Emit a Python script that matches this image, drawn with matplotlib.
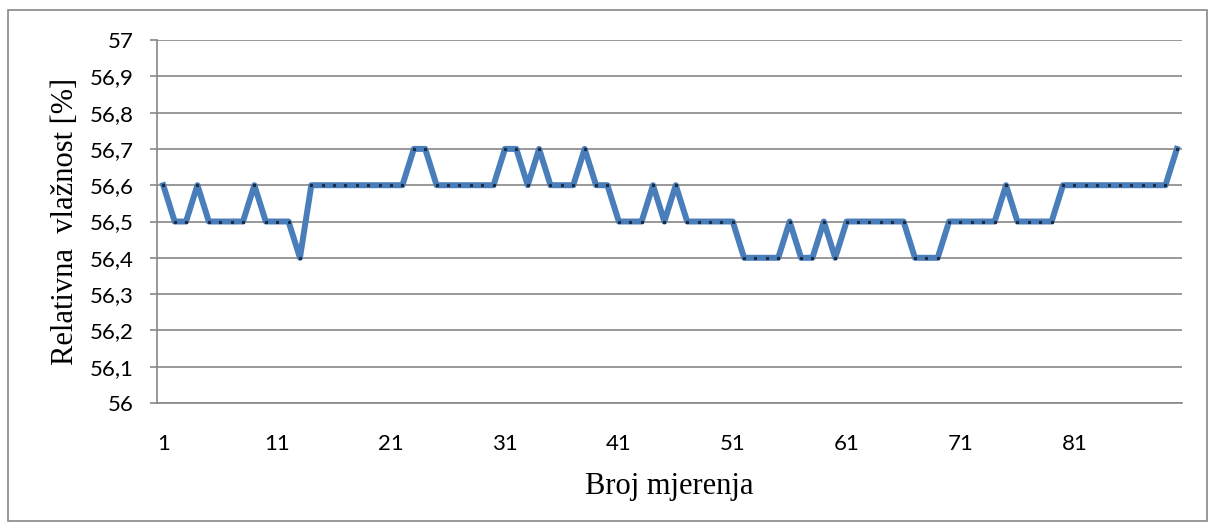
#relativna vlaznost - line chart
import numpy as np
import matplotlib
matplotlib.use('Agg')
import matplotlib.pyplot as plt
from matplotlib.patches import Rectangle

# measured values (1..90)
mjerenje = list(range(1, 91))
vlaznost = [56.6, 56.5, 56.5, 56.6, 56.5, 56.5, 56.5, 56.5, 56.6, 56.5,
            56.5, 56.5, 56.4, 56.6, 56.6, 56.6, 56.6, 56.6, 56.6, 56.6,
            56.6, 56.6, 56.7, 56.7, 56.6, 56.6, 56.6, 56.6, 56.6, 56.6,
            56.7, 56.7, 56.6, 56.7, 56.6, 56.6, 56.6, 56.7, 56.6, 56.6,
            56.5, 56.5, 56.5, 56.6, 56.5, 56.6, 56.5, 56.5, 56.5, 56.5,
            56.5, 56.4, 56.4, 56.4, 56.4, 56.5, 56.4, 56.4, 56.5, 56.4,
            56.5, 56.5, 56.5, 56.5, 56.5, 56.5, 56.4, 56.4, 56.4, 56.5,
            56.5, 56.5, 56.5, 56.5, 56.6, 56.5, 56.5, 56.5, 56.5, 56.6,
            56.6, 56.6, 56.6, 56.6, 56.6, 56.6, 56.6, 56.6, 56.6, 56.7]

x_ticks = [1, 11, 21, 31, 41, 51, 61, 71, 81]
y_ticks = [56.0, 56.1, 56.2, 56.3, 56.4, 56.5, 56.6, 56.7, 56.8, 56.9, 57.0]
y_labels = ['56', '56,1', '56,2', '56,3', '56,4', '56,5', '56,6', '56,7', '56,8', '56,9', '57']

grey = '#878787'

fig = plt.figure(figsize=(12.14, 5.25), dpi=100)
ax = fig.add_axes([157/1214, 1-403/525, (1182-157)/1214, (403-40)/525])

# outer chart border
fig.patches.append(Rectangle((8/1214, 4/525), 1199/1214, 511/525, transform=fig.transFigure,
                             fill=False, edgecolor=grey, linewidth=1.2))

ax.plot(mjerenje, vlaznost, color='#4a7ebb', linewidth=4.3, solid_joinstyle='round',
        marker='s', markersize=1.3, markerfacecolor='#1a2a44', markeredgecolor='#1a2a44', zorder=3)

ax.set_xlim(0.45, 90.45)
ax.set_ylim(56, 57)
ax.set_yticks(y_ticks)
ax.set_yticklabels(y_labels, fontfamily='Lato', fontsize=16)
ax.set_xticks(x_ticks)
ax.set_xticklabels([str(v) for v in x_ticks], fontfamily='Lato', fontsize=16)
ax.tick_params(axis='y', length=5, width=1.2, color=grey, pad=12)
ax.tick_params(axis='x', length=0, pad=22)

ax.grid(axis='y', color=grey, linewidth=1.2)
ax.set_axisbelow(True)
for s in ['top', 'right']:
    ax.spines[s].set_visible(False)
for s in ['left', 'bottom']:
    ax.spines[s].set_color(grey)
    ax.spines[s].set_linewidth(1.2)

ax.set_xlabel('Broj mjerenja', fontfamily='Liberation Serif', fontsize=22, labelpad=13)
ax.set_ylabel('Relativna  vlažnost [%]', fontfamily='Liberation Serif', fontsize=22, labelpad=7)

plt.savefig('out.png', dpi=100)
